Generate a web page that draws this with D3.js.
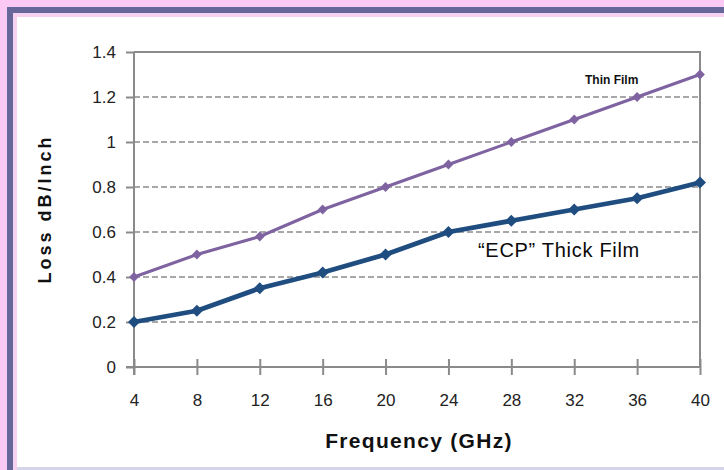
<!DOCTYPE html>
<html>
<head>
<meta charset="utf-8">
<script src="https://cdn.jsdelivr.net/npm/d3@7"></script>
<style>
  html, body { margin: 0; padding: 0; background: #fbc9f3; }
  svg { display: block; }
  text { font-family: "Liberation Sans", Arial, sans-serif; }
</style>
</head>
<body>
<svg id="chart" width="724" height="470"></svg>
<script>
// Frequency sweep (GHz)
const frequencies = [4, 8, 12, 16, 20, 24, 28, 32, 36, 40];
// Transmission-line loss, dB per inch
const thinFilm = [0.4, 0.5, 0.58, 0.7, 0.8, 0.9, 1.0, 1.1, 1.2, 1.3];
const ecpThickFilm = [0.2, 0.25, 0.35, 0.42, 0.5, 0.6, 0.65, 0.7, 0.75, 0.82];
const yTicks = [0, 0.2, 0.4, 0.6, 0.8, 1, 1.2, 1.4];
const yTickLabels = ["0", "0.2", "0.4", "0.6", "0.8", "1", "1.2", "1.4"];

const svg = d3.select("#chart");

// Panel frame
svg.append("rect").attr("x", 7).attr("y", 7).attr("width", 717).attr("height", 463).attr("fill", "#666699");
svg.append("rect").attr("x", 13).attr("y", 13).attr("width", 711).attr("height", 457).attr("fill", "#f6d2f0");
svg.append("rect").attr("x", 17).attr("y", 17).attr("width", 707).attr("height", 453).attr("fill", "#d4d4ea");
svg.append("rect").attr("x", 17).attr("y", 17).attr("width", 707).attr("height", 450).attr("fill", "#ffffff");

const x = d3.scaleLinear().domain([4, 40]).range([134, 700]);
const y = d3.scaleLinear().domain([0, 1.4]).range([367, 52]);

const axisColor = "#8a8a8a";

// Dashed gridlines
svg.append("g").selectAll("line")
  .data(yTicks.filter(v => v > 0 && v < 1.4))
  .join("line")
  .attr("x1", x(4)).attr("x2", x(40))
  .attr("y1", d => y(d)).attr("y2", d => y(d))
  .attr("stroke", "#8c8c8c").attr("stroke-width", 1.5)
  .attr("stroke-dasharray", "6,3");

// Plot border top and right
svg.append("path")
  .attr("d", `M${x(4)},${y(1.4)}H${x(40)}V${y(0)}`)
  .attr("fill", "none").attr("stroke", axisColor).attr("stroke-width", 2);

// Y axis
const yAxis = d3.axisLeft(y)
  .tickValues(yTicks)
  .tickFormat((d, i) => yTickLabels[i])
  .tickSize(8)
  .tickPadding(10);
const gy = svg.append("g").attr("transform", `translate(${x(4)},0)`).call(yAxis);
gy.select(".domain").attr("stroke", axisColor).attr("stroke-width", 2)
  .attr("d", `M0,${y(1.4)}V${y(0) + 8}`);
gy.selectAll(".tick line").attr("stroke", axisColor).attr("stroke-width", 2);
gy.selectAll(".tick text").attr("font-size", 17).attr("fill", "#222")
  .attr("font-family", "'Liberation Sans', Arial, sans-serif");

// X axis (ticks cross the axis line)
const xAxis = d3.axisBottom(x)
  .tickValues(frequencies)
  .tickFormat(d3.format("d"))
  .tickSizeInner(0)
  .tickSizeOuter(0)
  .tickPadding(27);
const gx = svg.append("g").attr("transform", `translate(0,${y(0)})`).call(xAxis);
gx.select(".domain").attr("stroke", axisColor).attr("stroke-width", 2)
  .attr("d", `M${x(4) - 8},0H${x(40)}`);
gx.selectAll(".tick line").attr("y1", -8).attr("y2", 8)
  .attr("stroke", axisColor).attr("stroke-width", 2);
gx.selectAll(".tick text").attr("font-size", 17).attr("fill", "#222")
  .attr("font-family", "'Liberation Sans', Arial, sans-serif");

// Series lines with diamond markers (squares turned 45 degrees)
const series = [
  { name: "Thin Film", values: thinFilm, color: "#7f63a1", width: 3, marker: 48 },
  { name: "\u201CECP\u201D Thick Film", values: ecpThickFilm, color: "#1f4d80", width: 4.8, marker: 72 }
];
const line = d3.line().x(d => x(d[0])).y(d => y(d[1]));
series.forEach(s => {
  const pts = frequencies.map((f, i) => [f, s.values[i]]);
  svg.append("path").datum(pts)
    .attr("d", line).attr("fill", "none")
    .attr("stroke", s.color).attr("stroke-width", s.width)
    .attr("stroke-linejoin", "round");
  svg.append("g").selectAll("path").data(pts).join("path")
    .attr("transform", d => `translate(${x(d[0])},${y(d[1])}) rotate(45)`)
    .attr("d", d3.symbol(d3.symbolSquare, s.marker))
    .attr("fill", s.color);
});

// Series labels
svg.append("text").attr("x", 585).attr("y", 84)
  .attr("font-size", 12).attr("font-weight", "bold").attr("fill", "#111")
  .text("Thin Film");
svg.append("text").attr("x", 478).attr("y", 257)
  .attr("font-size", 20).attr("letter-spacing", 0.7).attr("fill", "#0a0a0a")
  .text("\u201CECP\u201D Thick Film");

// Axis titles
svg.append("text").attr("x", 419).attr("y", 448)
  .attr("text-anchor", "middle").attr("font-size", 21).attr("font-weight", "bold")
  .attr("letter-spacing", 1.3).attr("fill", "#111")
  .text("Frequency (GHz)");
svg.append("text")
  .attr("transform", "translate(51,209) rotate(-90)")
  .attr("text-anchor", "middle").attr("font-size", 18).attr("font-weight", "bold")
  .attr("letter-spacing", 3).attr("fill", "#111")
  .text("Loss dB/Inch");
</script>
</body>
</html>
